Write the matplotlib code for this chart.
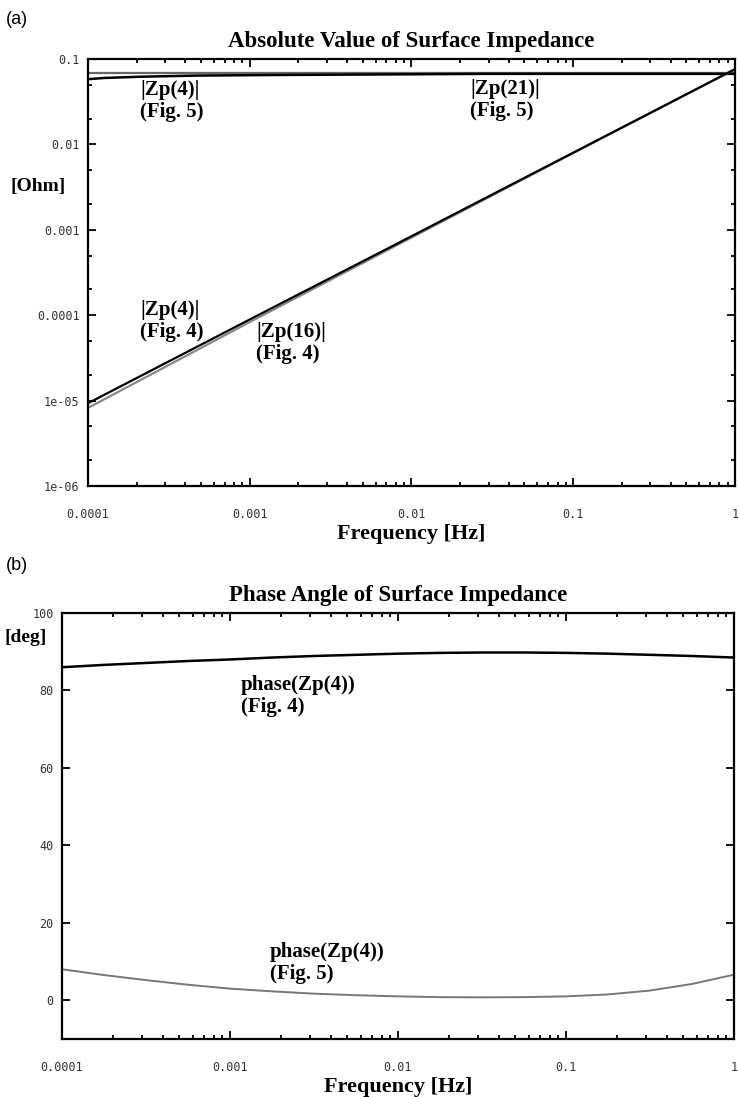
import matplotlib
matplotlib.use("Agg")
import matplotlib.pyplot as plt
from matplotlib.ticker import FixedLocator, LogLocator, NullFormatter

# frequencies [Hz] for the sampled curves
freq_dec = [1e-4, 1e-3, 1e-2, 1e-1, 1.0]

# |Zp| curves, fig. 4 (diagonals)
zp4_fig4 = [9.3e-6, 8.9e-5, 8.4e-4, 8.0e-3, 0.076]
zp16_fig4 = [8.2e-6, 8.3e-5, 8.1e-4, 7.9e-3, 0.076]

# |Zp| curves, fig. 5 (flat near 0.07)
freq_zp4_fig5 = [1e-4, 1.26e-4, 2.1e-4, 4.7e-4, 1.5e-3, 2.9e-2, 1.0]
zp4_fig5 = [0.058, 0.060, 0.062, 0.064, 0.065, 0.067, 0.067]
freq_zp21 = [1e-4, 1.0]
zp21_fig5 = [0.069, 0.069]

# phase curves
freq_ph = [1e-4, 1.78e-4, 3.16e-4, 5.62e-4, 1e-3, 1.78e-3, 3.16e-3, 5.62e-3, 1e-2,
           1.78e-2, 3.16e-2, 5.62e-2, 1e-1, 1.78e-1, 3.16e-1, 5.62e-1, 1.0]
phase_fig4 = [86.0, 86.6, 87.1, 87.6, 88.0, 88.5, 88.9, 89.2, 89.5,
              89.7, 89.8, 89.8, 89.7, 89.5, 89.2, 88.9, 88.5]
phase_fig5 = [8.0, 6.5, 5.2, 4.0, 3.0, 2.3, 1.7, 1.3, 1.0,
              0.8, 0.75, 0.8, 1.0, 1.5, 2.5, 4.2, 6.6]

x_ticks = [1e-4, 1e-3, 1e-2, 1e-1, 1.0]
x_labels = ["0.0001", "0.001", "0.01", "0.1", "1"]
y_ticks_a = [1e-6, 1e-5, 1e-4, 1e-3, 1e-2, 1e-1]
y_labels_a = ["1e-06", "1e-05", "0.0001", "0.001", "0.01", "0.1"]
y_ticks_b = [0, 20, 40, 60, 80, 100]

serif = "Liberation Serif"
mono = "DejaVu Sans Mono"

fig = plt.figure(figsize=(7.39, 10.97), dpi=100)
ax1 = fig.add_axes([0.119, 0.557, 0.8755, 0.3892])
ax2 = fig.add_axes([0.0839, 0.0529, 0.9093, 0.3883])


def style_axis(ax):
    for s in ax.spines.values():
        s.set_linewidth(1.6)
    ax.tick_params(which="both", direction="in", top=True, right=True, width=1.3)
    ax.tick_params(which="major", length=6, pad=16)
    ax.tick_params(which="minor", length=3)
    ax.tick_params(axis="y", which="major", pad=6)
    ax.set_xscale("log")
    ax.set_xlim(1e-4, 1)
    ax.xaxis.set_major_locator(FixedLocator(x_ticks))
    ax.set_xticklabels(x_labels, fontfamily=mono, fontsize=8.5, color="#333333")
    ax.xaxis.set_minor_locator(LogLocator(base=10, subs=range(2, 10)))
    ax.xaxis.set_minor_formatter(NullFormatter())
    ax.set_xlabel("Frequency [Hz]", fontfamily=serif, fontweight="bold", fontsize=16, labelpad=2)


# (a) absolute value
ax1.plot(freq_zp21, zp21_fig5, color="#666666", lw=1.6)
ax1.plot(freq_zp4_fig5, zp4_fig5, color="black", lw=1.8)
ax1.plot(freq_dec, zp16_fig4, color="#888888", lw=1.6)
ax1.plot(freq_dec, zp4_fig4, color="black", lw=1.6)
style_axis(ax1)
ax1.set_yscale("log")
ax1.set_ylim(1e-6, 0.1)
ax1.yaxis.set_major_locator(FixedLocator(y_ticks_a))
ax1.set_yticklabels(y_labels_a, fontfamily=mono, fontsize=8.5, color="#333333")
ax1.yaxis.set_minor_locator(LogLocator(base=10, subs=(2, 5)))
ax1.yaxis.set_minor_formatter(NullFormatter())
ax1.set_title("Absolute Value of Surface Impedance", fontfamily=serif, fontweight="bold",
              fontsize=16.5, pad=9)

lbl = dict(fontfamily=serif, fontweight="bold", fontsize=15, linespacing=1.15, va="top")
ax1.text(2.1e-4, 0.057, "|Zp(4)|\n(Fig. 5)", **lbl)
ax1.text(2.3e-2, 0.059, "|Zp(21)|\n(Fig. 5)", **lbl)
ax1.text(2.1e-4, 1.5e-4, "|Zp(4)|\n(Fig. 4)", **lbl)
ax1.text(1.1e-3, 8.3e-5, "|Zp(16)|\n(Fig. 4)", **lbl)

# (b) phase angle
ax2.plot(freq_ph, phase_fig4, color="black", lw=1.8)
ax2.plot(freq_ph, phase_fig5, color="#777777", lw=1.4)
style_axis(ax2)
ax2.set_ylim(-10, 100)
ax2.yaxis.set_major_locator(FixedLocator(y_ticks_b))
ax2.set_yticklabels([str(v) for v in y_ticks_b], fontfamily=mono, fontsize=8.5, color="#333333")
ax2.set_title("Phase Angle of Surface Impedance", fontfamily=serif, fontweight="bold",
              fontsize=16.5, pad=9)
ax2.text(1.16e-3, 84.0, "phase(Zp(4))\n(Fig. 4)", **lbl)
ax2.text(1.72e-3, 15.0, "phase(Zp(4))\n(Fig. 5)", **lbl)

# y axis unit labels
fig.text(10 / 739, 1 - 187 / 1097, "[Ohm]", fontfamily=serif, fontweight="bold", fontsize=14,
         va="center")
fig.text(4 / 739, 1 - 638 / 1097, "[deg]", fontfamily=serif, fontweight="bold", fontsize=14,
         va="center")

# panel letters
fig.text(6 / 739, 1 - 20 / 1097, "(a)", fontfamily="Liberation Sans", fontsize=13, va="center")
fig.text(6 / 739, 1 - 565 / 1097, "(b)", fontfamily="Liberation Sans", fontsize=13, va="center")

fig.savefig("out.png", dpi=100)
